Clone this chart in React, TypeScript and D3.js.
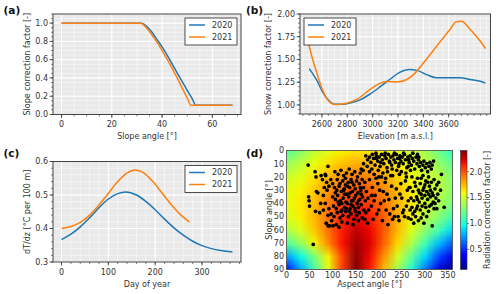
import React, { useMemo } from 'react';
import * as d3 from 'd3';

const FONT = 'DejaVu Sans, sans-serif';
const BLUE = '#1f77b4';
const ORANGE = '#ff7f0e';
const TEXT = '#333';

// (a) slope correction factor
const slopeAngle2020 = [0, 30, 32, 34, 36, 38, 40, 42, 44, 46, 48, 50, 52, 53.5, 68];
const slopeFactor2020 = [1, 1, 1, 0.96, 0.9, 0.82, 0.74, 0.65, 0.555, 0.455, 0.36, 0.265, 0.17, 0.1, 0.1];
const slopeAngle2021 = [0, 30, 31.5, 34, 36, 38, 40, 42, 44, 46, 48, 50, 51.5, 68];
const slopeFactor2021 = [1, 1, 1, 0.94, 0.87, 0.79, 0.7, 0.605, 0.505, 0.4, 0.29, 0.18, 0.1, 0.1];

// (b) snow correction factor vs elevation
const elev2020 = [2500, 2560, 2610, 2660, 2700, 2770, 2820, 2900, 2980, 3060, 3140, 3210, 3290, 3350, 3430, 3500, 3610, 3690, 3770, 3850, 3890];
const snow2020 = [1.4, 1.27, 1.13, 1.04, 1.008, 1.008, 1.02, 1.055, 1.12, 1.2, 1.285, 1.355, 1.39, 1.38, 1.33, 1.3, 1.3, 1.3, 1.28, 1.26, 1.24];
const elev2021 = [2490, 2520, 2560, 2610, 2665, 2705, 2795, 2875, 2980, 3060, 3110, 3190, 3270, 3320, 3400, 3505, 3610, 3660, 3700, 3770, 3850, 3890];
const snow2021 = [1.7, 1.535, 1.35, 1.147, 1.026, 1.004, 1.018, 1.06, 1.17, 1.24, 1.258, 1.252, 1.28, 1.33, 1.46, 1.646, 1.83, 1.915, 1.92, 1.83, 1.7, 1.62];

// (c) lapse rate vs day of year
const day2020 = [0, 20, 40, 60, 80, 100, 120, 137, 160, 180, 200, 220, 240, 260, 280, 300, 320, 340, 365];
const lapse2020 = [0.367, 0.383, 0.405, 0.432, 0.462, 0.488, 0.504, 0.509, 0.5, 0.481, 0.456, 0.428, 0.402, 0.38, 0.362, 0.349, 0.34, 0.334, 0.33];
const day2021 = [0, 20, 40, 60, 80, 100, 120, 140, 157, 175, 195, 215, 235, 255, 273];
const lapse2021 = [0.4, 0.406, 0.418, 0.44, 0.47, 0.505, 0.54, 0.566, 0.575, 0.567, 0.54, 0.505, 0.47, 0.44, 0.42];

// (d) radiation correction field (rows = slope, cols = aspect)
const aspectGrid = [0, 30, 60, 90, 120, 150, 180, 210, 240, 270, 300, 330, 360];
const slopeGrid = [0, 10, 20, 30, 40, 50, 60, 70, 80, 90];
const radiationGrid = [
  [1.15, 1.3, 1.45, 1.55, 1.61, 1.65, 1.64, 1.6, 1.55, 1.48, 1.38, 1.22, 1.05],
  [1.35, 1.45, 1.57, 1.66, 1.74, 1.78, 1.76, 1.7, 1.62, 1.54, 1.45, 1.33, 1.18],
  [1.48, 1.55, 1.65, 1.76, 1.85, 1.9, 1.88, 1.8, 1.69, 1.59, 1.5, 1.42, 1.28],
  [1.55, 1.61, 1.71, 1.84, 1.96, 2.01, 1.97, 1.87, 1.74, 1.62, 1.51, 1.44, 1.3],
  [1.57, 1.63, 1.75, 1.9, 2.04, 2.11, 2.06, 1.93, 1.77, 1.63, 1.49, 1.39, 1.24],
  [1.53, 1.62, 1.76, 1.93, 2.1, 2.2, 2.13, 1.97, 1.78, 1.6, 1.43, 1.28, 1.1],
  [1.4, 1.53, 1.72, 1.93, 2.14, 2.28, 2.19, 1.99, 1.75, 1.53, 1.3, 1.1, 0.88],
  [1.15, 1.33, 1.6, 1.88, 2.16, 2.34, 2.22, 1.97, 1.68, 1.4, 1.1, 0.82, 0.6],
  [0.75, 0.96, 1.25, 1.62, 2.05, 2.38, 2.18, 1.85, 1.5, 1.18, 0.88, 0.55, 0.32],
  [0.42, 0.76, 1.12, 1.55, 2.05, 2.41, 2.15, 1.75, 1.36, 1.02, 0.65, 0.3, 0.11],
];
const radiationTicks = [0.5, 1.0, 1.5, 2.0];

// (d) grid cells: [aspect, slope]
const cellPoints: [number, number][] = [
  // top band
  [172, 4], [176, 7], [180, 5], [183, 9], [186, 3], [189, 6], [192, 11], [195, 4], [198, 8], [201, 5], [203, 12], [206, 3],
  [208, 7], [211, 10], [213, 4], [216, 6], [218, 13], [221, 3], [223, 8], [226, 5], [228, 11], [231, 4], [233, 7], [236, 9],
  [238, 3], [241, 6], [243, 12], [246, 4], [248, 8], [251, 5], [253, 10], [256, 3], [258, 7], [261, 13], [263, 5], [266, 9],
  [268, 4], [271, 11], [273, 6], [276, 8], [278, 14], [281, 5], [283, 10], [286, 7], [288, 12], [291, 9], [293, 15], [296, 11],
  [298, 8], [301, 13], [304, 10], [306, 16], [309, 12], [311, 9], [314, 14], [316, 11], [319, 8], [199, 15], [209, 17], [219, 16],
  [229, 14], [239, 15], [249, 16], [259, 17], [269, 15], [185, 14], [175, 12], [167, 10], [162, 14], [194, 2], [214, 2], [234, 2],
  [254, 2], [224, 9], [244, 10], [264, 12], [284, 3], [274, 2], [204, 9], [190, 18], [180, 16], [200, 20], [215, 21], [230, 19],
  [245, 18], [260, 20], [195, 6], [245, 6], [265, 7], [287, 5],
  // left cluster
  [105, 16], [112, 18], [118, 15], [124, 19], [130, 17], [136, 14], [142, 18], [148, 16], [154, 20], [160, 17], [166, 15], [110, 22],
  [116, 25], [122, 23], [128, 21], [134, 24], [140, 22], [146, 26], [152, 23], [158, 25], [164, 22], [170, 24], [104, 28], [109, 30],
  [114, 27], [119, 31], [125, 29], [131, 33], [137, 28], [143, 31], [149, 29], [155, 32], [161, 30], [167, 28], [173, 31], [100, 35],
  [106, 37], [111, 34], [117, 38], [123, 36], [129, 39], [135, 35], [141, 38], [147, 36], [153, 40], [159, 37], [165, 35], [171, 38],
  [177, 36], [102, 42], [108, 44], [114, 41], [120, 45], [126, 43], [132, 40], [138, 44], [144, 42], [150, 46], [156, 43], [162, 41],
  [168, 45], [97, 48], [103, 50], [110, 47], [116, 51], [122, 49], [128, 46], [134, 50], [140, 48], [146, 52], [152, 49], [158, 47],
  [164, 51], [108, 56], [114, 58], [120, 54], [132, 55], [144, 56], [156, 53], [170, 52], [126, 33], [138, 32], [150, 34], [132, 27],
  [144, 38], [120, 40], [156, 38], [112, 39], [128, 26], [140, 41], [148, 44], [136, 46], [124, 30], [160, 28], [118, 46], [172, 47],
  [142, 24], [130, 44], [162, 33], [106, 32], [96, 22], [92, 27], [88, 30], [100, 25], [84, 40], [80, 45], [90, 49], [86, 55],
  [94, 57], [98, 53], [84, 18], [78, 22], [87, 24],
  // middle
  [180, 22], [186, 28], [192, 34], [198, 25], [204, 40], [210, 31], [216, 45], [222, 37], [228, 27], [234, 50], [240, 42], [246, 33],
  [252, 47], [258, 23], [264, 38], [184, 42], [196, 48], [208, 53], [220, 56], [232, 44], [244, 53], [256, 50], [268, 45], [190, 38],
  [202, 30], [214, 24], [226, 19], [238, 29], [250, 36], [262, 30], [178, 45], [188, 52], [200, 45], [212, 38], [224, 48], [236, 36],
  [248, 25], [260, 42], [270, 52], [242, 50], [230, 52], [218, 33], [206, 20], [194, 21], [254, 45], [266, 28], [176, 55], [185, 34],
  // right cluster
  [272, 20], [278, 24], [284, 21], [290, 25], [296, 19], [302, 23], [308, 20], [314, 24], [320, 22], [326, 26], [268, 28], [274, 31],
  [280, 27], [286, 30], [292, 33], [298, 28], [304, 31], [310, 27], [316, 32], [322, 29], [328, 33], [270, 36], [276, 38], [282, 35],
  [288, 39], [294, 36], [300, 40], [306, 37], [312, 35], [318, 39], [324, 36], [272, 43], [278, 46], [284, 42], [290, 45], [296, 48],
  [302, 43], [308, 46], [314, 41], [320, 44], [280, 50], [286, 53], [292, 51], [298, 55], [304, 50], [276, 55], [316, 57], [288, 32],
  [300, 34], [312, 30], [294, 42], [306, 24], [318, 34], [296, 30], [282, 44], [310, 42], [322, 40], [336, 18], [342, 43], [330, 38],
  [326, 44], [292, 21], [300, 26], [308, 33], [284, 37], [274, 48], [264, 51], [330, 24], [334, 30],
  // sparse left
  [47, 11], [48, 35], [49, 38], [50, 42], [58, 71], [62, 16], [64, 20], [65, 31], [68, 32], [63, 46], [90, 12], [85, 19],
  [80, 34], [74, 40], [72, 47], [92, 44], [75, 19], [82, 28], [90, 57], [101, 57],
];

const jetR = d3.scaleLinear().domain([0, 0.35, 0.66, 0.89, 1]).range([0, 0, 1, 1, 0.5]).clamp(true);
const jetG = d3.scaleLinear().domain([0, 0.125, 0.375, 0.64, 0.91, 1]).range([0, 0, 1, 1, 0, 0]).clamp(true);
const jetB = d3.scaleLinear().domain([0, 0.11, 0.34, 0.65, 1]).range([0.5, 1, 1, 0, 0]).clamp(true);
const jet = (t: number) => d3.rgb(jetR(t) * 255, jetG(t) * 255, jetB(t) * 255);
const radNorm = d3.scaleLinear().domain([0.11, 2.41]).range([0, 1]).clamp(true);

interface Series { xs: number[]; ys: number[]; color: string; label: string }

interface PanelProps {
  left: number; top: number; width: number; height: number;
  xDomain: [number, number]; yDomain: [number, number];
  xTicks: number[]; yTicks: number[]; xMinorStep: number; yMinorStep: number;
  yFormat: (v: number) => string;
  xLabel: string; yLabel: string; yLabelX: number;
  series: Series[]; legendLeft?: boolean;
}

function minorRange(domain: [number, number], step: number) {
  const start = Math.ceil(domain[0] / step) * step;
  return d3.range(start, domain[1] + step * 0.01, step);
}

function LinePanel(p: PanelProps) {
  const { left, top, width, height } = p;
  const bottom = top + height;
  const x = d3.scaleLinear().domain(p.xDomain).range([left, left + width]);
  const y = d3.scaleLinear().domain(p.yDomain).range([bottom, top]);
  const lineGen = d3.line<[number, number]>().x((d) => x(d[0])).y((d) => y(d[1])).curve(d3.curveMonotoneX);
  const path = (s: Series) => lineGen(s.xs.map((v, i) => [v, s.ys[i]] as [number, number])) || '';
  const xMinor = minorRange(p.xDomain, p.xMinorStep);
  const yMinor = minorRange(p.yDomain, p.yMinorStep);
  const lgW = 52, lgH = 27;
  const lgX = p.legendLeft ? left + 4 : left + width - 4 - lgW;
  const lgY = top + 4;
  return (
    <g fontFamily={FONT}>
      <rect x={left} y={top} width={width} height={height} fill="#e9e9e9" />
      {xMinor.map((v, i) => (
        <line key={'xm' + i} x1={x(v)} x2={x(v)} y1={top} y2={bottom} stroke="#fff" strokeWidth={0.5} />
      ))}
      {yMinor.map((v, i) => (
        <line key={'ym' + i} x1={left} x2={left + width} y1={y(v)} y2={y(v)} stroke="#fff" strokeWidth={0.5} />
      ))}
      {p.xTicks.map((v, i) => (
        <line key={'xg' + i} x1={x(v)} x2={x(v)} y1={top} y2={bottom} stroke="#fff" strokeWidth={1} />
      ))}
      {p.yTicks.map((v, i) => (
        <line key={'yg' + i} x1={left} x2={left + width} y1={y(v)} y2={y(v)} stroke="#fff" strokeWidth={1} />
      ))}
      {p.series.map((s) => (
        <path key={s.label} d={path(s)} fill="none" stroke={s.color} strokeWidth={1.5} />
      ))}
      <rect x={left} y={top} width={width} height={height} fill="none" stroke="#444" strokeWidth={1} />
      {xMinor.map((v, i) => (
        <line key={'xmt' + i} x1={x(v)} x2={x(v)} y1={bottom} y2={bottom + 2} stroke={TEXT} strokeWidth={0.6} />
      ))}
      {yMinor.map((v, i) => (
        <line key={'ymt' + i} x1={left - 2} x2={left} y1={y(v)} y2={y(v)} stroke={TEXT} strokeWidth={0.6} />
      ))}
      {p.xTicks.map((v, i) => (
        <g key={'xt' + i}>
          <line x1={x(v)} x2={x(v)} y1={bottom} y2={bottom + 3.5} stroke={TEXT} strokeWidth={0.8} />
          <text x={x(v)} y={bottom + 12.5} fontSize={8} fill={TEXT} textAnchor="middle">{v}</text>
        </g>
      ))}
      {p.yTicks.map((v, i) => (
        <g key={'yt' + i}>
          <line x1={left - 3.5} x2={left} y1={y(v)} y2={y(v)} stroke={TEXT} strokeWidth={0.8} />
          <text x={left - 5} y={y(v)} dy="0.35em" fontSize={8} fill={TEXT} textAnchor="end">{p.yFormat(v)}</text>
        </g>
      ))}
      <text x={left + width / 2} y={bottom + 24.5} fontSize={8} fill={TEXT} textAnchor="middle">{p.xLabel}</text>
      <text transform={`translate(${p.yLabelX},${top + height / 2}) rotate(-90)`} dy="0.35em" fontSize={8} fill={TEXT} textAnchor="middle">
        {p.yLabel}
      </text>
      <rect x={lgX} y={lgY} width={lgW} height={lgH} fill="#fff" stroke="#222" strokeWidth={0.8} />
      {p.series.map((s, i) => (
        <g key={'lg' + s.label}>
          <line x1={lgX + 4} x2={lgX + 20} y1={lgY + 7 + i * 12} y2={lgY + 7 + i * 12} stroke={s.color} strokeWidth={1.5} />
          <text x={lgX + 27} y={lgY + 7 + i * 12} dy="0.35em" fontSize={8} fill={TEXT}>{s.label}</text>
        </g>
      ))}
    </g>
  );
}

function HeatPanel() {
  const left = 286.5, top = 150.5, width = 166, height = 119;
  const bottom = top + height;
  const x = d3.scaleLinear().domain([0, 360]).range([left, left + width]);
  const y = d3.scaleLinear().domain([0, 90]).range([top, bottom]);
  const cbX = 460.5, cbW = 6.5;
  const cb = d3.scaleLinear().domain([0.11, 2.41]).range([bottom, top]);

  const imgUrl = useMemo(() => {
    const canvas = document.createElement('canvas');
    canvas.width = aspectGrid.length;
    canvas.height = slopeGrid.length;
    const ctx = canvas.getContext('2d');
    if (!ctx) return '';
    const img = ctx.createImageData(canvas.width, canvas.height);
    radiationGrid.forEach((row, j) => {
      row.forEach((v, i) => {
        const c = jet(radNorm(v));
        const k = (j * canvas.width + i) * 4;
        img.data[k] = c.r;
        img.data[k + 1] = c.g;
        img.data[k + 2] = c.b;
        img.data[k + 3] = 255;
      });
    });
    ctx.putImageData(img, 0, 0);
    return canvas.toDataURL();
  }, []);

  const aStep = aspectGrid[1] - aspectGrid[0];
  const sStep = slopeGrid[1] - slopeGrid[0];
  const stops = d3.range(0, 1.0001, 0.02);

  return (
    <g fontFamily={FONT}>
      <defs>
        <clipPath id="heatClip">
          <rect x={left} y={top} width={width} height={height} />
        </clipPath>
        <linearGradient id="jetGrad" x1="0" y1="1" x2="0" y2="0">
          {stops.map((t, i) => (
            <stop key={i} offset={t} stopColor={jet(t).formatHex()} />
          ))}
        </linearGradient>
      </defs>
      <g clipPath="url(#heatClip)">
        <image
          href={imgUrl}
          x={x(aspectGrid[0] - aStep / 2)}
          y={y(slopeGrid[0] - sStep / 2)}
          width={x(aspectGrid[aspectGrid.length - 1] + aStep / 2) - x(aspectGrid[0] - aStep / 2)}
          height={y(slopeGrid[slopeGrid.length - 1] + sStep / 2) - y(slopeGrid[0] - sStep / 2)}
          preserveAspectRatio="none"
        />
        {cellPoints.map((d, i) => (
          <circle key={i} cx={x(d[0])} cy={y(d[1])} r={1.85} fill="#000" />
        ))}
      </g>
      <rect x={left} y={top} width={width} height={height} fill="none" stroke="#444" strokeWidth={0.8} />
      {d3.range(0, 351, 50).map((v) => (
        <text key={'x' + v} x={x(v)} y={bottom + 8.5} fontSize={8} fill={TEXT} textAnchor="middle">{v}</text>
      ))}
      {d3.range(0, 91, 10).map((v) => (
        <text key={'y' + v} x={left - 2.5} y={y(v)} dy="0.35em" fontSize={8} fill={TEXT} textAnchor="end">{v}</text>
      ))}
      <text x={left + width / 2} y={bottom + 17.5} fontSize={8} fill={TEXT} textAnchor="middle">Aspect angle [°]</text>
      <text transform={`translate(269,${top + height / 2}) rotate(-90)`} dy="0.35em" fontSize={8} fill={TEXT} textAnchor="middle">
        Slope angle [°]
      </text>
      <rect x={cbX} y={top} width={cbW} height={height} fill="url(#jetGrad)" stroke="#333" strokeWidth={0.6} />
      {radiationTicks.map((v) => (
        <g key={'c' + v}>
          <line x1={cbX + cbW} x2={cbX + cbW + 2} y1={cb(v)} y2={cb(v)} stroke={TEXT} strokeWidth={0.6} />
          <text x={cbX + cbW + 2.5} y={cb(v)} dy="0.35em" fontSize={8} fill={TEXT}>{v.toFixed(1)}</text>
        </g>
      ))}
      <text transform={`translate(487,${top + height / 2}) rotate(-90)`} dy="0.35em" fontSize={8} fill={TEXT} textAnchor="middle">
        Radiation correction factor [-]
      </text>
    </g>
  );
}

export default function App() {
  return (
    <svg width={500} height={294} style={{ position: 'absolute', left: 0, top: 0, background: '#fff' }}>
      <LinePanel
        left={53} top={14} width={188} height={100.5}
        xDomain={[-3.4, 71.4]} yDomain={[0, 1.1]}
        xTicks={[0, 20, 40, 60]} yTicks={[0, 0.2, 0.4, 0.6, 0.8, 1.0]}
        xMinorStep={5} yMinorStep={0.05}
        yFormat={(v) => v.toFixed(1)}
        xLabel="Slope angle [°]" yLabel="Slope correction factor [-]" yLabelX={27.5}
        series={[
          { xs: slopeAngle2020, ys: slopeFactor2020, color: BLUE, label: '2020' },
          { xs: slopeAngle2021, ys: slopeFactor2021, color: ORANGE, label: '2021' },
        ]}
      />
      <LinePanel
        left={300} top={14} width={190.5} height={100}
        xDomain={[2427, 3930]} yDomain={[0.9, 2.0]}
        xTicks={[2600, 2800, 3000, 3200, 3400, 3600]} yTicks={[1.0, 1.25, 1.5, 1.75, 2.0]}
        xMinorStep={50} yMinorStep={0.05}
        yFormat={(v) => v.toFixed(2)}
        xLabel="Elevation [m a.s.l.]" yLabel="Snow correction factor [-]" yLabelX={268}
        legendLeft
        series={[
          { xs: elev2020, ys: snow2020, color: BLUE, label: '2020' },
          { xs: elev2021, ys: snow2021, color: ORANGE, label: '2021' },
        ]}
      />
      <LinePanel
        left={53} top={161.5} width={188} height={100.5}
        xDomain={[-18.25, 383.25]} yDomain={[0.3, 0.6]}
        xTicks={[0, 100, 200, 300]} yTicks={[0.3, 0.4, 0.5, 0.6]}
        xMinorStep={20} yMinorStep={0.02}
        yFormat={(v) => v.toFixed(1)}
        xLabel="Day of year" yLabel="dT/dz [°C per 100 m]" yLabelX={27}
        series={[
          { xs: day2020, ys: lapse2020, color: BLUE, label: '2020' },
          { xs: day2021, ys: lapse2021, color: ORANGE, label: '2021' },
        ]}
      />
      <HeatPanel />
      <g fontFamily={FONT} fontWeight="bold" fontSize={10.5} fill="#111">
        <text x={3.5} y={14}>(a)</text>
        <text x={246} y={14}>(b)</text>
        <text x={3.5} y={157}>(c)</text>
        <text x={246} y={157}>(d)</text>
      </g>
    </svg>
  );
}
